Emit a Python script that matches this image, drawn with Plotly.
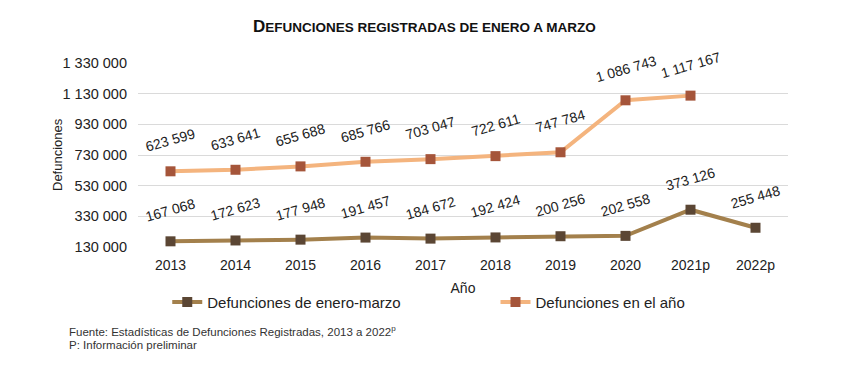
import plotly.graph_objects as go

years = ["2013", "2014", "2015", "2016", "2017", "2018", "2019", "2020", "2021p", "2022p"]
enero_marzo = [167068, 172623, 177948, 191457, 184672, 192424, 200256, 202558, 373126, 255448]
anual = [623599, 633641, 655688, 685766, 703047, 722611, 747784, 1086743, 1117167]
tick_vals = [130000, 330000, 530000, 730000, 930000, 1130000, 1330000]


def fmt(v):
    return f"{v:,}".replace(",", " ")


fig = go.Figure()
fig.add_trace(go.Scatter(
    x=years, y=enero_marzo, mode="lines+markers", name="Defunciones de enero-marzo",
    line=dict(color="#A3804C", width=4),
    marker=dict(symbol="square", size=10, color="#5B4634"),
    legend="legend",
))
fig.add_trace(go.Scatter(
    x=years[:len(anual)], y=anual, mode="lines+markers", name="Defunciones en el año",
    line=dict(color="#F4B47E", width=4),
    marker=dict(symbol="square", size=10, color="#A5553A"),
    legend="legend2",
))

annotations = []
for series in (enero_marzo, anual):
    for i, v in enumerate(series):
        annotations.append(dict(
            x=i, y=v, xref="x", yref="y", text=fmt(v), showarrow=False,
            textangle=-16, yshift=31, font=dict(size=14, color="#222222"),
        ))

annotations.append(dict(
    x=-0.109, y=-0.458, xref="paper", yref="paper", xanchor="left", yanchor="middle",
    showarrow=False, align="left",
    text="Fuente: Estadísticas de Defunciones Registradas, 2013 a 2022<sup>p</sup>",
    font=dict(size=11.5, color="#333333"),
))
annotations.append(dict(
    x=-0.109, y=-0.535, xref="paper", yref="paper", xanchor="left", yanchor="middle",
    showarrow=False, align="left", text="P: Información preliminar",
    font=dict(size=11.5, color="#333333"),
))
annotations.append(dict(
    x=0.4415, y=1.196, xref="paper", yref="paper", xanchor="center", yanchor="middle",
    showarrow=False,
    text="<b>D<span style='font-size:13.5px'>EFUNCIONES REGISTRADAS DE ENERO A MARZO</span></b>",
    font=dict(size=17, color="#111111"),
))
annotations.append(dict(
    x=-0.1246, y=0.5, xref="paper", yref="paper", xanchor="center", yanchor="middle",
    showarrow=False, textangle=-90, text="Defunciones",
    font=dict(size=13, color="#222222"),
))

legend_common = dict(orientation="h", y=-0.30, xanchor="left", yanchor="middle",
                     font=dict(size=15, color="#222222"), bgcolor="rgba(0,0,0,0)")

fig.update_layout(
    width=842, height=360,
    margin=dict(l=130, r=62, t=55, b=121),
    paper_bgcolor="white", plot_bgcolor="white",
    font=dict(family="Liberation Sans, Arial, sans-serif", size=13, color="#222222"),
    showlegend=True,
    legend=dict(x=0.045, **legend_common),
    legend2=dict(x=0.55, **legend_common),
    annotations=annotations,
    xaxis=dict(type="category", range=[-0.5, len(years) - 0.5],
               showgrid=False, showline=False, ticks="", zeroline=False,
               tickfont=dict(size=14), ticklabelstandoff=8,
               title=dict(text="Año", font=dict(size=14), standoff=11)),
    yaxis=dict(range=[130000, 1330000], tickvals=tick_vals,
               ticktext=[fmt(v) for v in tick_vals],
               showgrid=True, gridcolor="#DADADA", gridwidth=1,
               zeroline=False, showline=False, ticks="",
               tickfont=dict(size=14.5), ticklabelstandoff=10),
)

fig.write_html("out.html")
